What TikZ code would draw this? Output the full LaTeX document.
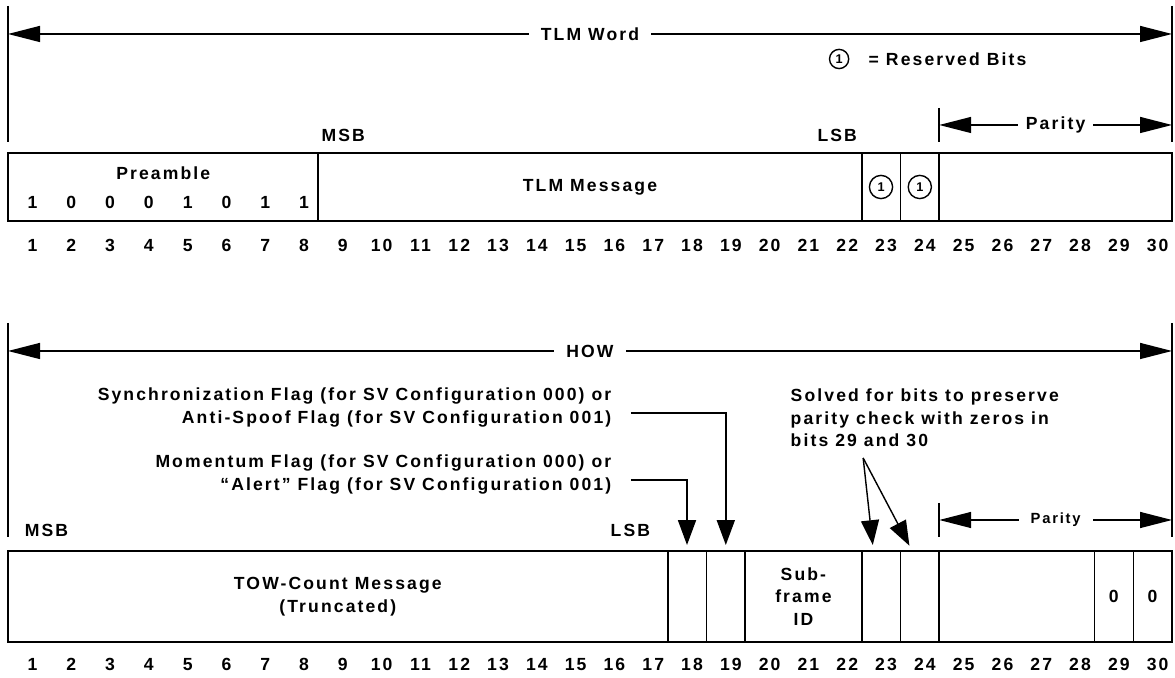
\documentclass[tikz,border=0pt]{standalone}
\usepackage{fontspec}
\setmainfont{Liberation Sans}[LetterSpace=12]
\usepackage{tikz}
\usetikzlibrary{arrows.meta, positioning, calc}

\begin{document}
\begin{tikzpicture}[
  x=0.97cm, y=1cm,
  font=\fontsize{12.5}{16}\selectfont\bfseries,
  dimline/.style={{Triangle[length=0.8cm, width=0.4cm]}-{Triangle[length=0.8cm, width=0.4cm]}, line width=1pt},
  endbar/.style={line width=1.4pt},
  pointer/.style={-{Triangle[length=0.62cm, width=0.45cm]}, line width=1pt, shorten >=0.15cm},
  field/.style={draw, line width=1.3pt, anchor=south west, inner sep=0pt, outer sep=0pt, align=center},
  txt/.style={inner sep=1pt},
  bitnum/.style={inner sep=0pt, text height=0.72em, text depth=0pt},
  reserved/.style={draw, circle, line width=1pt, inner sep=0pt, minimum size=0.58cm, font=\fontsize{9}{9}\selectfont\bfseries},
  cut/.style={fill=white, inner xsep=0.3cm}
]
  \useasboundingbox (-0.2062,0) rectangle (30.077,16.925);

  % TLM word
  \draw[endbar] (0,16.775) -- (0,13.375);
  \draw[endbar] (30,16.775) -- (30,13.375);
  \draw[endbar] (24,14.225) -- (24,13.375);
  \coordinate (tlmL) at (0,16.075);
  \coordinate (tlmR) at (30,16.075);
  \draw[dimline] (tlmL) -- node[cut] (tlmword) {TLM Word} (tlmR);

  \node[reserved, minimum size=0.48cm] (legcirc) at (21.42,15.45) {1};
  \node[txt, anchor=west] (legtxt) at (22.14,15.45) {= Reserved Bits};

  \coordinate (tparL) at (24,13.8);
  \coordinate (tparR) at (30,13.8);
  \draw[dimline] (tparL) -- node[cut, inner xsep=0.2cm] (tpartxt) {Parity} (tparR);

  \node[txt, anchor=west] (msbT) at (8.04,13.55) {MSB};
  \node[txt, anchor=west] (lsbT) at (20.82,13.55) {LSB};

  \node[field, minimum width=8*0.97cm, minimum height=1.7cm] (pre) at (0,11.4) {};
  \node[field, minimum width=14*0.97cm, minimum height=1.7cm] (msg) at (8,11.4) {TLM Message};
  \node[field, minimum width=0.97cm, minimum height=1.7cm] (r23) at (22,11.4) {};
  \node[field, minimum width=0.97cm, minimum height=1.7cm] (r24) at (23,11.4) {};
  \node[field, minimum width=6*0.97cm, minimum height=1.7cm] (tpar) at (24,11.4) {};
  \node[reserved] (res23) at (r23) {1};
  \node[reserved] (res24) at (r24) {1};

  \node[txt] (pretitle) at (4,12.6) {Preamble};
  \foreach \v [count=\i] in {1,0,0,0,1,0,1,1}
    \node[bitnum] (p\i) at (\i-0.37,11.85) {\v};

  \foreach \i in {1,...,30}
    \node[bitnum] (t\i) at (\i-0.37,10.775) {\i};

  % HOW
  \draw[endbar] (0,8.85) -- (0,3.5);
  \draw[endbar] (30,8.85) -- (30,3.5);
  \draw[endbar] (24,4.35) -- (24,3.5);
  \coordinate (howL) at (0,8.15);
  \coordinate (howR) at (30,8.15);
  \draw[dimline] (howL) -- node[cut] (howtxt) {HOW} (howR);

  \node[txt, anchor=east, align=right] (sync) at (15.59,6.7375)
    {Synchronization Flag (for SV Configuration 000) or\\Anti-Spoof Flag (for SV Configuration 001)};
  \node[txt, anchor=east, align=right] (mom) at (15.59,5.0625)
    {Momentum Flag (for SV Configuration 000) or\\“Alert” Flag (for SV Configuration 001)};
  \node[txt, anchor=west, align=left] (solved) at (20.13,6.475)
    {Solved for bits to preserve\\parity check with zeros in\\bits 29 and 30};

  \coordinate (bparL) at (24,3.925);
  \coordinate (bparR) at (30,3.925);
  \draw[dimline] (bparL) -- node[cut, font=\fontsize{10.5}{12}\selectfont\bfseries] (bpartxt) {Parity} (bparR);

  \node[txt, anchor=west] (msbB) at (0.39,3.675) {MSB};
  \node[txt, anchor=west] (lsbB) at (15.49,3.675) {LSB};

  \node[field, minimum width=17*0.97cm, minimum height=2.275cm] (tow) at (0,0.875) {TOW-Count Message\\(Truncated)};
  \node[field, minimum width=0.97cm, minimum height=2.275cm] (c18) at (17,0.875) {};
  \node[field, minimum width=0.97cm, minimum height=2.275cm] (c19) at (18,0.875) {};
  \node[field, minimum width=3*0.97cm, minimum height=2.275cm] (sf) at (19,0.875) {Sub-\\frame\\ID};
  \node[field, minimum width=0.97cm, minimum height=2.275cm] (c23) at (22,0.875) {};
  \node[field, minimum width=0.97cm, minimum height=2.275cm] (c24) at (23,0.875) {};
  \node[field, minimum width=4*0.97cm, minimum height=2.275cm] (bpar) at (24,0.875) {};
  \node[field, minimum width=0.97cm, minimum height=2.275cm, line width=0.9pt] (z29) at (28,0.875) {0};
  \node[field, minimum width=0.97cm, minimum height=2.275cm, line width=0.9pt] (z30) at (29,0.875) {0};

  \draw[pointer] ([xshift=0.45cm, yshift=-0.14cm]sync.east) -| (c19.north);
  \draw[pointer] ([xshift=0.45cm, yshift=-0.14cm]mom.east) -| (c18.north);

  \coordinate (fork) at (22.04,5.475);
  \draw[pointer] (fork) -- ([xshift=-0.19cm]c23.north);
  \draw[pointer] (fork) -- ([xshift=-0.19cm]c24.north);

  \foreach \i in {1,...,30}
    \node[bitnum] (b\i) at (\i-0.37,0.3) {\i};
\end{tikzpicture}
\end{document}
